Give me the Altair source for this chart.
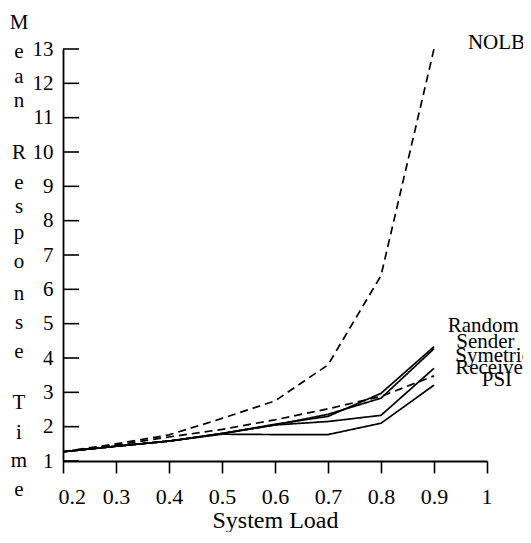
import altair as alt
import pandas as pd

loads = [0.2, 0.3, 0.4, 0.5, 0.6, 0.7, 0.8, 0.9]
nolb = [1.27, 1.5, 1.76, 2.24, 2.75, 3.8, 6.4, 13.0]
random_ = [1.27, 1.43, 1.58, 1.8, 2.07, 2.3, 2.97, 4.33]
sender = [1.27, 1.43, 1.58, 1.8, 2.05, 2.36, 2.83, 4.27]
symetric = [1.27, 1.43, 1.58, 1.8, 2.05, 2.15, 2.33, 3.7]
receiver = [1.27, 1.46, 1.7, 1.92, 2.2, 2.52, 2.88, 3.48]
psi = [1.27, 1.43, 1.58, 1.78, 1.77, 1.77, 2.1, 3.21]

series_names = ["NOLB", "Random", "Sender", "Symetric", "Receiver", "PSI"]
series_vals = [nolb, random_, sender, symetric, receiver, psi]
dashes = [[8, 5], [1, 0], [1, 0], [1, 0], [8, 5], [1, 0]]

# series labels (data coordinates)
label_text = ["NOLB", "Random", "Sender", "Symetric", "Receiver", "PSI"]
label_x = [0.964, 0.926, 0.942, 0.94, 0.94, 0.99]
label_y = [13.18, 4.93, 4.47, 4.06, 3.71, 3.36]

# vertical y-axis title, one letter per row (data coordinates on the y scale)
title_letters = ["M", "e", "a", "n", "R", "e", "s", "p", "o", "n", "s", "e", "T", "i", "m", "e"]
title_letter_y = [13.76, 12.91, 12.19, 11.49, 9.97, 9.10, 8.40, 7.64, 6.80, 5.86,
                  5.02, 4.18, 2.69, 1.82, 1.0, 0.16]
title_x = 0.117

x_ticks = [0.2, 0.3, 0.4, 0.5, 0.6, 0.7, 0.8, 0.9, 1.0]
y_ticks = list(range(1, 14))

rows = []
for name, vals in zip(series_names, series_vals):
    for x, y in zip(loads, vals):
        rows.append({"series": name, "load": x, "time": y})
df = pd.DataFrame(rows)

labels_df = pd.DataFrame({"text": label_text, "x": label_x, "y": label_y})
letters_df = pd.DataFrame({"t": title_letters, "y": title_letter_y, "x": [title_x] * len(title_letters)})
yticks_df = pd.DataFrame({"v": y_ticks})

FONT = "Liberation Serif"

xscale = alt.Scale(domain=[0.2, 1.0], nice=False, zero=False)
yscale = alt.Scale(domain=[1, 13], nice=False, zero=False)

x_axis = alt.Axis(values=x_ticks, format=".1~f", title="System Load",
                  tickSize=12, labelPadding=13, titleY=66,
                  labelFlush=True, labelFlushOffset=5, labelFontSize=22,
                  titleBaseline="alphabetic", titleFontSize=24)
y_axis = alt.Axis(values=y_ticks, title=None, labelOverlap=False,
                  tickSize=0, labelPadding=10, labelFontSize=21)

lines = alt.Chart(df).mark_line(color="black", strokeWidth=1.7).encode(
    x=alt.X("load:Q", scale=xscale, axis=x_axis),
    y=alt.Y("time:Q", scale=yscale, axis=y_axis),
    strokeDash=alt.StrokeDash("series:N",
                              scale=alt.Scale(domain=series_names, range=dashes),
                              legend=None),
    detail="series:N",
)

yticks = alt.Chart(yticks_df).mark_rule(color="black", strokeWidth=1.6).encode(
    y=alt.Y("v:Q", scale=yscale, axis=y_axis),
    x=alt.value(0),
    x2=alt.value(16),
)

texts = alt.Chart(labels_df).mark_text(
    font=FONT, fontSize=21, align="left", baseline="middle", color="black"
).encode(
    x=alt.X("x:Q", scale=xscale, axis=x_axis),
    y=alt.Y("y:Q", scale=yscale, axis=y_axis),
    text="text:N",
)

letters = alt.Chart(letters_df).mark_text(
    font=FONT, fontSize=21, align="center", baseline="middle", color="black"
).encode(
    x=alt.X("x:Q", scale=xscale, axis=x_axis),
    y=alt.Y("y:Q", scale=yscale, axis=y_axis),
    text="t:N",
)

chart = alt.layer(lines, yticks, texts, letters).properties(
    width=424,
    height=412,
    autosize=alt.AutoSizeParams(type="none"),
    padding={"left": 55, "top": 41, "right": 36, "bottom": 71},
).configure_view(stroke=None).configure_axis(
    grid=False,
    domainColor="black",
    domainWidth=1.8,
    tickColor="black",
    tickWidth=1.6,
    labelFont=FONT,
    labelColor="black",
    titleFont=FONT,
    titleColor="black",
    titleFontWeight="normal",
).configure_axisY(labelAlign="right", labelBaseline="middle", labelOverlap=False)

chart.save("out.html", embed_options={"renderer": "svg", "actions": False})
